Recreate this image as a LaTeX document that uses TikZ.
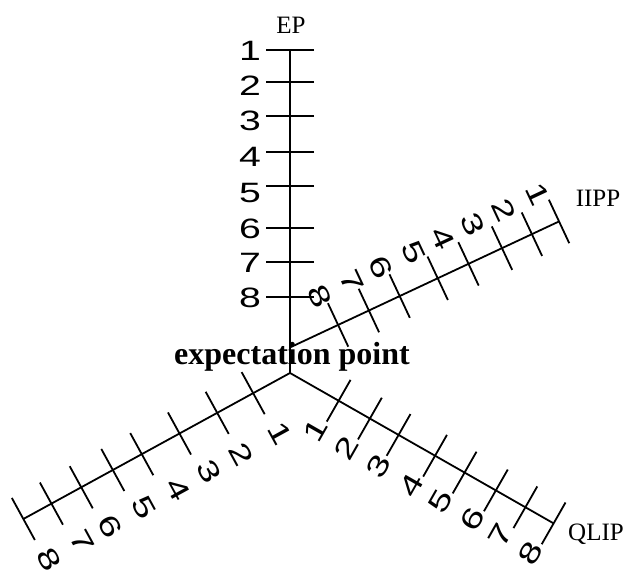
\documentclass[tikz,border=0pt]{standalone}
\usepackage{fontspec}
\setmainfont{Liberation Serif}
\newfontfamily\numfont{Liberation Sans}
\usepackage{graphicx}
\usepackage{tikz}

\begin{document}
\begin{tikzpicture}[x=1pt,y=1pt,
    axisline/.style={line width=1.8pt},
    num/.style={font=\numfont\fontsize{28}{28}\selectfont,inner sep=0pt},
    axname/.style={font=\fontsize{25}{25}\selectfont,inner sep=0pt},
    hubtext/.style={font=\bfseries\fontsize{32}{32}\selectfont,inner sep=0pt}
  ]
  \useasboundingbox (0,0) rectangle (628,570);
  \clip (0,0) rectangle (628,570);

  \coordinate (hub) at (290,197);
  \coordinate (iistart) at (291,223);

  % EP scale
  \begin{scope}[shift={(hub)},rotate=90]
    \draw[axisline] (0,0) -- (323,0) coordinate (epend);
    \foreach \d in {323,291,257,221,187,145,111,76}
      \draw[axisline] (\d,-24) -- (\d,24);
    \foreach \a/\n in {322/1,287/2,252/3,216/4,180/5,144/6,110/7,75/8}
      \node[num] (ep\n) at (\a,40) {\scalebox{1.4}[1]{\n}};
  \end{scope}

  % IIPP scale
  \begin{scope}[shift={(iistart)},rotate=25.1]
    \draw[axisline] (0,0) -- (296,0) coordinate (iiend);
    \foreach \d in {296,266,233,196,162,120,86,52}
      \draw[axisline] (\d,-24) -- (\d,24);
    \foreach \a/\n in {288/1,251/2,217/3,184/4,151/5,115/6,83/7,48/8}
      \node[num,rotate=-64.9] (ii\n) at (\a,34) {\scalebox{1.4}[1]{\n}};
  \end{scope}

  % lower left scale
  \begin{scope}[shift={(hub)},rotate=208.7]
    \draw[axisline] (0,0) -- (304,0) coordinate (llend);
    \foreach \d in {42,83,126,169,202,238,272,304}
      \draw[axisline] (\d,-24) -- (\d,24);
    \foreach \a/\n in {38/1,82/2,118/3,154/4,193/5,231/6,263/7,301/8}
      \node[num,rotate=-61.3] (ll\n) at (\a,48) {\scalebox{1.4}[1]{\n}};
  \end{scope}

  % QLIP scale
  \begin{scope}[shift={(hub)},rotate=-29.7]
    \draw[axisline] (0,0) -- (303.5,0) coordinate (qlend);
    \foreach \d in {56,92,125,167,201,237,271,303.5}
      \draw[axisline] (\d,-24) -- (\d,24);
    \foreach \a/\n in {51/1,86/2,123/3,161/4,195/5,231/6,263/7,298/8}
      \node[num,rotate=60.3] (ql\n) at (\a,-37) {\scalebox{1.4}[1]{\n}};
  \end{scope}

  \node[axname] (ep) at (291,545) {EP};
  \node[axname] (iipp) at (598,372) {IIPP};
  \node[axname] (qlip) at (596,36) {QLIP};
  \node[hubtext,anchor=base] (expt) at (292,205) {expectation point};
\end{tikzpicture}
\end{document}
